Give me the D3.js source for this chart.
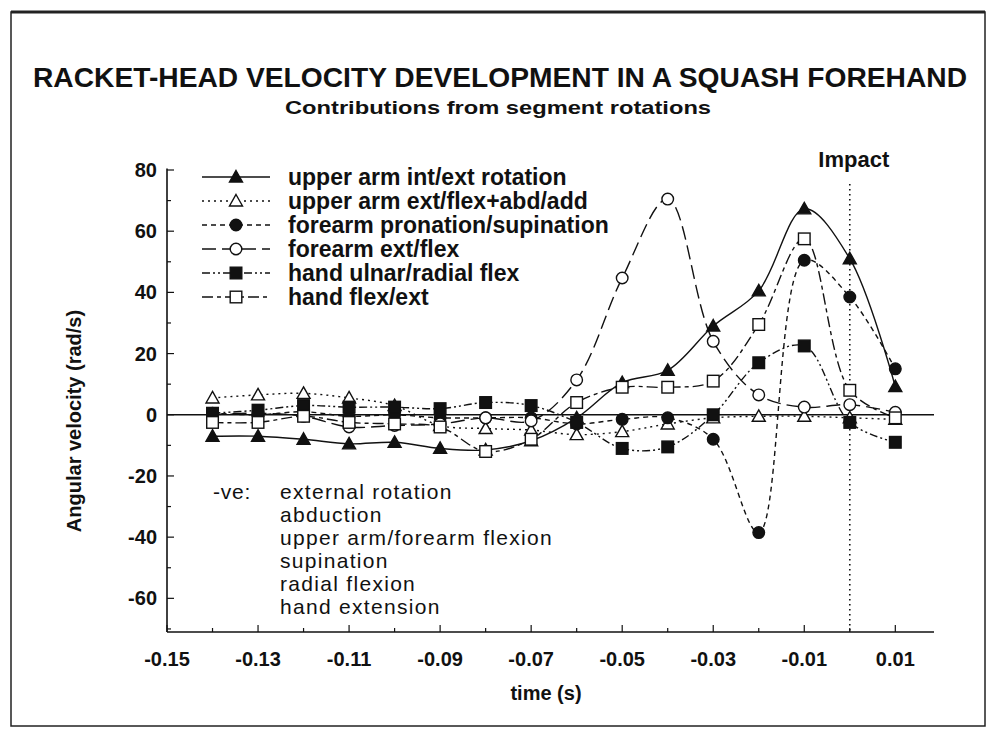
<!DOCTYPE html>
<html>
<head>
<meta charset="utf-8">
<script src="https://cdn.jsdelivr.net/npm/d3@7"></script>
<style>
body { margin: 0; background: #fff; }
text { font-family: "Liberation Sans", Arial, sans-serif; fill: #111; }
</style>
</head>
<body>
<script>
// time points (s)
var times = [-0.14, -0.13, -0.12, -0.11, -0.10, -0.09, -0.08, -0.07, -0.06, -0.05, -0.04, -0.03, -0.02, -0.01, 0.00, 0.01];

var upperArmIntExt = [-7, -7, -8, -9.5, -9, -11, -11.5, -8.5, -1, 10.5, 14.5, 29, 40.5, 67.3, 51, 9.2];
var upperArmExtFlex = [5.5, 6.5, 7, 5.5, 3, -3.5, -4.5, -5, -6.5, -5.5, -3, -1, -0.5, -0.5, -1, -1.5];
var forearmPronSup = [0.5, 0, 1, -0.5, 0, -1, -1, -1, -3, -1.5, -1, -8, -38.5, 50.5, 38.5, 15];
var forearmExtFlex = [0, 0.5, -0.5, -4, -3.5, -3, -1, -2, 11.4, 44.7, 70.5, 24, 6.5, 2.5, 3.3, 0.8];
var handUlnarRadial = [0.5, 1.5, 3, 2.5, 2.5, 2, 4, 3, -2.5, -11, -10.5, 0, 17, 22.5, -2.5, -9];
var handFlexExt = [-2.5, -2.5, -0.5, -2.5, -3, -4, -12, -8, 4, 9, 9, 11, 29.5, 57.5, 8, -1];

var seriesNames = ["upper arm int/ext rotation", "upper arm ext/flex+abd/add", "forearm pronation/supination",
                   "forearm ext/flex", "hand ulnar/radial flex", "hand flex/ext"];
var xTicks = [-0.15, -0.13, -0.11, -0.09, -0.07, -0.05, -0.03, -0.01, 0.01];
var yTicks = [-60, -40, -20, 0, 20, 40, 60, 80];
var noteLines = ["external rotation", "abduction", "upper arm/forearm flexion", "supination", "radial flexion", "hand extension"];

var series = [
  {name: seriesNames[0], values: upperArmIntExt, dash: null, marker: "triangle", fill: true},
  {name: seriesNames[1], values: upperArmExtFlex, dash: "2,4", marker: "triangle", fill: false},
  {name: seriesNames[2], values: forearmPronSup, dash: "5,4", marker: "circle", fill: true},
  {name: seriesNames[3], values: forearmExtFlex, dash: "14,6", marker: "circle", fill: false},
  {name: seriesNames[4], values: handUlnarRadial, dash: "8,3,2,3,2,3", marker: "square", fill: true},
  {name: seriesNames[5], values: handFlexExt, dash: "11,4,4,4", marker: "square", fill: false}
];

var W = 993, H = 739;
var svg = d3.select("body").append("svg").attr("width", W).attr("height", H);

svg.append("rect").attr("x", 11).attr("y", 12).attr("width", 974).attr("height", 714)
  .attr("fill", "none").attr("stroke", "#222").attr("stroke-width", 1.5);
svg.append("line").attr("x1", 11).attr("x2", 985).attr("y1", 12).attr("y2", 12)
  .attr("stroke", "#222").attr("stroke-width", 3);

svg.append("text").attr("x", 500).attr("y", 87).attr("text-anchor", "middle")
  .attr("font-size", 27).attr("font-weight", "bold")
  .attr("textLength", 934).attr("lengthAdjust", "spacingAndGlyphs")
  .text("RACKET-HEAD VELOCITY DEVELOPMENT IN A SQUASH FOREHAND");
svg.append("text").attr("x", 498).attr("y", 114).attr("text-anchor", "middle")
  .attr("font-size", 19).attr("font-weight", "bold")
  .attr("textLength", 426).attr("lengthAdjust", "spacingAndGlyphs")
  .text("Contributions from segment rotations");

var x = d3.scaleLinear().domain([-0.15, 0.0185]).range([167, 934]);
var y = d3.scaleLinear().domain([-71, 80]).range([632, 170]);

// axes
var g = svg.append("g");
g.append("line").attr("x1", x(-0.15)).attr("x2", x(-0.15)).attr("y1", y(80.5)).attr("y2", y(-71))
  .attr("stroke", "#111").attr("stroke-width", 1.6);
g.append("line").attr("x1", x(-0.15)).attr("x2", x(0.0185)).attr("y1", y(-71)).attr("y2", y(-71))
  .attr("stroke", "#111").attr("stroke-width", 1.6);

d3.range(-70, 81, 10).forEach(function(v){
  var major = v % 20 === 0;
  g.append("line").attr("x1", x(-0.15)).attr("x2", x(-0.15) + (major ? 7 : 4))
    .attr("y1", y(v)).attr("y2", y(v)).attr("stroke", "#111").attr("stroke-width", 1.2);
});
yTicks.forEach(function(v){
  g.append("text").attr("x", 157).attr("y", y(v) + 7).attr("text-anchor", "end")
    .attr("font-size", 20).attr("font-weight", "bold").text(v);
});

d3.range(-0.15, 0.0101, 0.01).forEach(function(t){
  var k = Math.round(t * 100);
  var major = Math.abs(k) % 2 === 1;
  g.append("line").attr("x1", x(t)).attr("x2", x(t))
    .attr("y1", y(-71)).attr("y2", y(-71) - (major ? 7 : 4)).attr("stroke", "#111").attr("stroke-width", 1.2);
});
xTicks.forEach(function(t){
  g.append("text").attr("x", x(t)).attr("y", y(-71) + 34).attr("text-anchor", "middle")
    .attr("font-size", 20).attr("font-weight", "bold").text(t.toFixed(2));
});

svg.append("text").attr("x", 546).attr("y", 700).attr("text-anchor", "middle")
  .attr("font-size", 20).attr("font-weight", "bold").text("time (s)");
svg.append("text").attr("transform", "translate(81,421) rotate(-90)").attr("text-anchor", "middle")
  .attr("font-size", 20).attr("font-weight", "bold").text("Angular velocity (rad/s)");

// zero line
svg.append("line").attr("x1", x(-0.15)).attr("x2", x(0.0185)).attr("y1", y(0)).attr("y2", y(0))
  .attr("stroke", "#111").attr("stroke-width", 1.3);

// impact line
svg.append("line").attr("x1", x(0)).attr("x2", x(0)).attr("y1", 184).attr("y2", y(-71))
  .attr("stroke", "#111").attr("stroke-width", 1.6).attr("stroke-dasharray", "1.5,3.5");
svg.append("text").attr("x", x(0) + 4).attr("y", 167).attr("text-anchor", "middle")
  .attr("font-size", 22).attr("font-weight", "bold").text("Impact");

function drawMarker(sel, kind, filled, cx, cy) {
  var fill = filled ? "#111" : "#fff";
  if (kind === "triangle") {
    sel.append("path").attr("d", "M" + cx + "," + (cy - 6.5) + "L" + (cx + 6.5) + "," + (cy + 5) + "L" + (cx - 6.5) + "," + (cy + 5) + "Z")
      .attr("fill", fill).attr("stroke", "#111").attr("stroke-width", 1.4);
  } else if (kind === "circle") {
    sel.append("circle").attr("cx", cx).attr("cy", cy).attr("r", 5.8)
      .attr("fill", fill).attr("stroke", "#111").attr("stroke-width", 1.4);
  } else {
    sel.append("rect").attr("x", cx - 5.8).attr("y", cy - 5.8).attr("width", 11.6).attr("height", 11.6)
      .attr("fill", fill).attr("stroke", "#111").attr("stroke-width", 1.4);
  }
}

var line = d3.line()
  .x(function(d, i){ return x(times[i]); })
  .y(function(d){ return y(d); })
  .curve(d3.curveCatmullRom.alpha(0.5));

series.forEach(function(s){
  svg.append("path").attr("d", line(s.values)).attr("fill", "none")
    .attr("stroke", "#111").attr("stroke-width", 1.4)
    .attr("stroke-dasharray", s.dash);
});
series.forEach(function(s){
  var mg = svg.append("g");
  s.values.forEach(function(v, i){ drawMarker(mg, s.marker, s.fill, x(times[i]), y(v)); });
});

// legend
var leg = svg.append("g");
series.forEach(function(s, k){
  var ly = 177 + k * 24;
  leg.append("line").attr("x1", 202).attr("x2", 270).attr("y1", ly).attr("y2", ly)
    .attr("stroke", "#111").attr("stroke-width", 1.4).attr("stroke-dasharray", s.dash);
  drawMarker(leg, s.marker, s.fill, 236, ly);
  leg.append("text").attr("x", 288).attr("y", ly + 8).attr("font-size", 23).attr("font-weight", "bold").text(s.name);
});

// sign convention note
var note = svg.append("g");
note.append("text").attr("x", 213).attr("y", 499).attr("font-size", 21).attr("letter-spacing", 0.8).text("-ve:");
noteLines.forEach(function(t, k){
  note.append("text").attr("x", 280).attr("y", 499 + k * 23).attr("font-size", 21)
    .attr("letter-spacing", 1.3).text(t);
});
</script>
</body>
</html>
